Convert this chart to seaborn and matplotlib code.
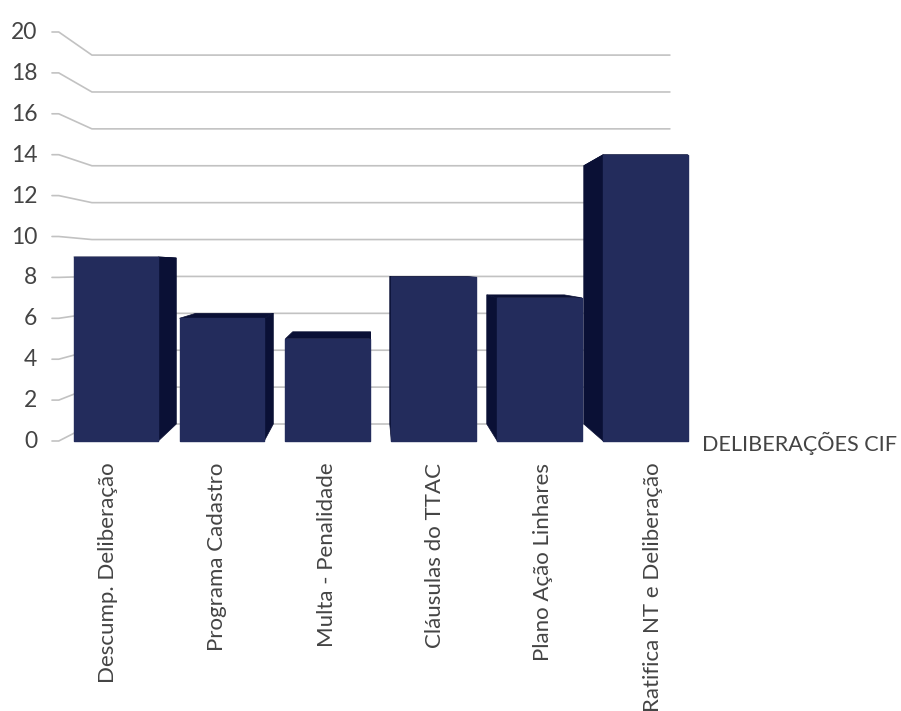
import matplotlib
matplotlib.use("Agg")
import matplotlib.pyplot as plt
from matplotlib.patches import Polygon
from matplotlib.transforms import ScaledTranslation
import pandas as pd
import seaborn as sns

categories = ["Descump. Deliberação", "Programa Cadastro", "Multa - Penalidade",
              "Cláusulas do TTAC", "Plano Ação Linhares", "Ratifica NT e Deliberação"]
values = [9, 6, 5, 8, 7, 14]
y_ticks = list(range(0, 21, 2))
axis_title = "DELIBERAÇÕES CIF"

FRONT = "#232C5C"
SIDE = "#0A1035"
GRID = "#C2C2C2"
TEXT = "#444444"
BAR_W = 0.80
# 3-D look: back plane is the front plane scaled towards a vanishing column
VANISH_X, DEPTH_K = 2.42, 0.916
WALL_BASE, WALL_K = 0.831, 0.902
STUB_END, WALL_LEFT, WALL_RIGHT = -0.54, -0.227, 5.23
LABEL_DX = [-8, -5, -1, 1, 3, 7]

def back_x(x):
    return VANISH_X + DEPTH_K * (x - VANISH_X)

def back_y(v):
    return WALL_BASE + WALL_K * v

sns.set_theme(style="white")
plt.rcParams["font.family"] = ["Lato", "DejaVu Sans"]
W, H = 901, 711
fig = plt.figure(figsize=(W / 100, H / 100), dpi=100, facecolor="white")
ax = fig.add_axes([52 / W, (H - 441) / H, (690 - 52) / W, (441 - 32) / H])

df = pd.DataFrame({"categoria": categories, "valor": values})
sns.barplot(data=df, x="categoria", y="valor", color=FRONT, saturation=1,
            width=BAR_W, ax=ax, zorder=4)

ax.set_xlim(-0.604, 5.42)
ax.set_ylim(0, 20)
ax.set_xlabel("")
ax.set_ylabel("")
sns.despine(ax=ax, left=True, bottom=True)

for t in y_ticks:
    ax.plot([ax.get_xlim()[0], STUB_END, WALL_LEFT, WALL_RIGHT],
            [t, t, back_y(t), back_y(t)],
            color=GRID, lw=1.2, zorder=1, clip_on=False, solid_joinstyle="round")

for i, (patch, v) in enumerate(zip(ax.patches, values)):
    patch.set_clip_on(False)
    patch.set_edgecolor(FRONT)
    patch.set_linewidth(1.0)
    patch.set_joinstyle("round")
    x0, x1 = patch.get_x(), patch.get_x() + patch.get_width()
    bx0, bx1 = back_x(x0), back_x(x1)
    by = back_y(v)
    faces = [[(x0, v), (x1, v), (bx1, by), (bx0, by)]]
    if bx1 > x1:
        faces.append([(x1, 0), (x1, v), (bx1, by), (bx1, back_y(0))])
    if bx0 < x0:
        faces.append([(x0, 0), (x0, v), (bx0, by), (bx0, back_y(0))])
    for f in faces:
        ax.add_patch(Polygon(f, closed=True, facecolor=SIDE, edgecolor=SIDE,
                             lw=0.5, zorder=3, clip_on=False))

ax.set_yticks(y_ticks)
ax.tick_params(axis="y", length=0, pad=10.5, labelsize=16.5, labelcolor=TEXT)
ax.tick_params(axis="x", length=0, pad=15.5, labelsize=16, labelcolor=TEXT)
ax.set_xticks(range(len(categories)))
ax.set_xticklabels(categories, rotation=90, ha="center", va="top")
for lab, dx in zip(ax.get_xticklabels(), LABEL_DX):
    lab.set_transform(lab.get_transform() + ScaledTranslation(dx / 100, 0, fig.dpi_scale_trans))
for lab in ax.get_yticklabels():
    lab.set_transform(lab.get_transform() + ScaledTranslation(0, 1.5 / 100, fig.dpi_scale_trans))

fig.text(702 / W, (H - 443) / H, axis_title, fontsize=15.6, color=TEXT,
         ha="left", va="center")

fig.savefig("out.png", dpi=100)
